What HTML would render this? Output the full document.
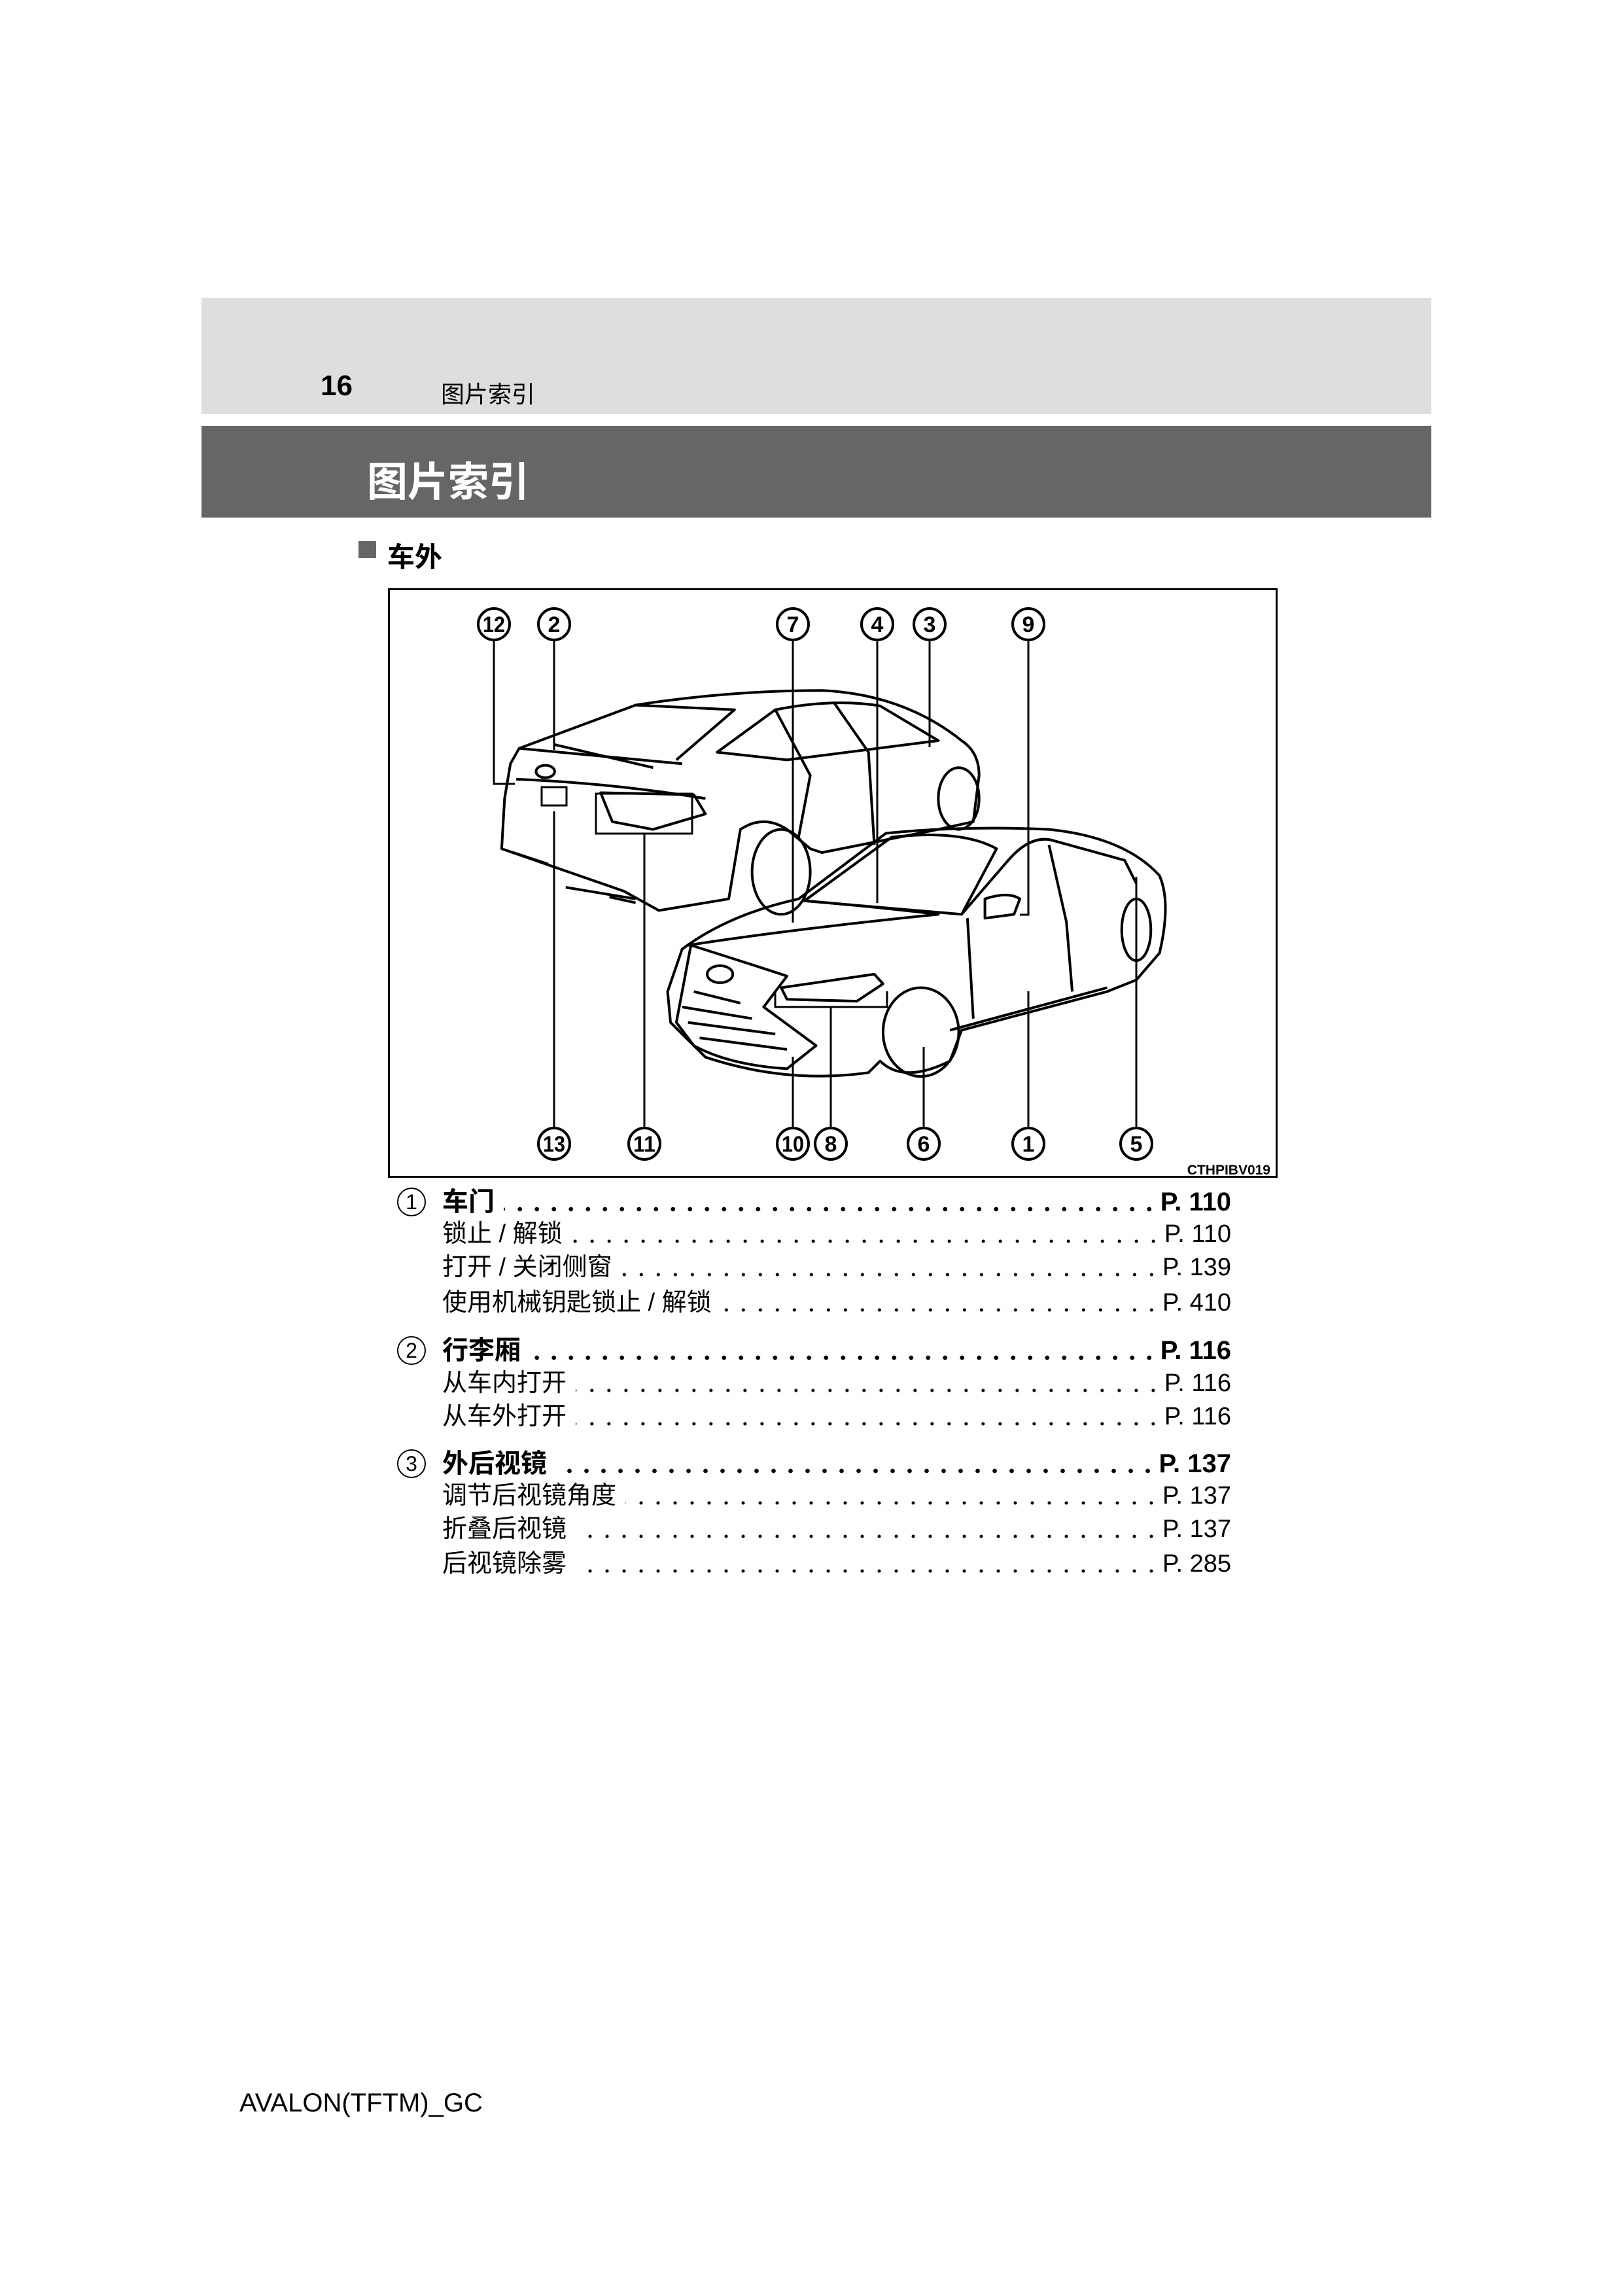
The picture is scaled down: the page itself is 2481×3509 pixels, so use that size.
<!DOCTYPE html>
<html><head><meta charset="utf-8">
<style>
html,body{margin:0;padding:0;background:#fff}
body{width:2481px;height:3509px;position:relative;overflow:hidden;font-family:"Liberation Sans","Noto Sans CJK SC",sans-serif;color:#000}
.abs{position:absolute}
.row{position:absolute;left:676px;width:1206px;display:flex;align-items:flex-end;font-size:38px;line-height:44px;height:44px}
.row .lab{white-space:nowrap}
.row .dots{flex:1;height:44px;margin:0 4px 0 14px;background-image:radial-gradient(circle,#000 2.2px,transparent 2.8px);background-size:26px 8px;background-repeat:repeat-x;background-position:right 0 bottom 7px}
.row.b{font-weight:bold;font-size:40px}
.row.b .dots{background-image:radial-gradient(circle,#000 3px,transparent 3.6px)}
.row .pg{white-space:nowrap}
.cn{position:absolute;width:44px;height:44px;border:2px solid #000;border-radius:50%;box-sizing:border-box;font-size:32px;line-height:40px;text-align:center}
</style></head><body>
<div class="abs" style="left:308px;top:455px;width:1880px;height:178px;background:#dedede"></div>
<div class="abs" style="left:490px;top:565px;font-size:44px;font-weight:bold">16</div>
<div class="abs" style="left:674px;top:574px;font-size:36px">图片索引</div>
<div class="abs" style="left:308px;top:651px;width:1880px;height:140px;background:#666"></div>
<div class="abs" style="left:561px;top:686px;font-size:62px;font-weight:bold;color:#fff">图片索引</div>
<div class="abs" style="left:548px;top:827px;width:27px;height:26px;background:#666"></div>
<div class="abs" style="left:592px;top:818px;font-size:42px;font-weight:bold">车外</div>
<div class="abs" style="left:593px;top:899px;width:1360px;height:901px;border:3px solid #000;box-sizing:border-box"></div>

<svg class="abs" style="left:0;top:0" width="2481" height="3509">
<g transform="translate(580,890) scale(0.89,0.59)" fill="none" stroke="#000" stroke-width="4" stroke-linejoin="round">
<path vector-effect="non-scaling-stroke" d="M240,430 L440,318 Q600,280 760,280 Q900,290 1000,410 Q1030,440 1030,500 L1020,620 L960,640 L760,700 L740,690 L700,640 Q660,600 620,640 L600,820 L480,850 L420,800 L210,690 L215,560 L225,470 Z"/>
<path vector-effect="non-scaling-stroke" d="M440,318 L610,330 L510,460 M300,420 L470,480 M240,430 L520,470"/>
<path vector-effect="non-scaling-stroke" d="M580,440 L680,330 Q780,300 860,320 L960,410 L700,460 Z"/>
<path vector-effect="non-scaling-stroke" d="M680,330 L740,500 L720,660 M780,310 L840,440 L850,680"/>
<circle vector-effect="non-scaling-stroke" cx="285" cy="490" r="16"/>
<path vector-effect="non-scaling-stroke" d="M235,510 Q400,520 560,560 M380,545 L540,550 L560,600 L470,640 L400,620 Z"/>
<path vector-effect="non-scaling-stroke" d="M230,700 L290,730 M320,790 L440,820 M395,815 L440,830"/>
<ellipse vector-effect="non-scaling-stroke" cx="995" cy="560" rx="35" ry="80"/>
<ellipse vector-effect="non-scaling-stroke" cx="690" cy="750" rx="50" ry="110"/>
<path vector-effect="non-scaling-stroke" d="M520,950 Q600,860 720,820 L870,650 Q1000,630 1150,640 Q1280,660 1340,760 Q1360,830 1340,960 L1300,1030 L1250,1060 L1000,1160 L980,1240 Q900,1300 860,1240 L840,1270 Q700,1300 560,1230 L500,1140 L495,1060 Z"/>
<path vector-effect="non-scaling-stroke" d="M730,825 L880,660 Q1000,640 1060,690 L1000,860 Z"/>
<path vector-effect="non-scaling-stroke" d="M730,825 Q850,840 960,860 Q700,900 530,940 M1000,860 L1080,720 Q1120,650 1160,670 L1280,720 L1300,780"/>
<path vector-effect="non-scaling-stroke" d="M1010,870 L1020,1130 M1150,680 L1180,880 L1190,1060"/>
<path vector-effect="non-scaling-stroke" d="M1040,820 Q1080,800 1100,820 L1090,860 L1040,870 Z"/>
<path vector-effect="non-scaling-stroke" d="M535,940 Q640,990 700,1020 L660,1100 L750,1200 L700,1260 Q600,1250 540,1200 L510,1140 Z"/>
<circle vector-effect="non-scaling-stroke" cx="585" cy="1015" r="22"/>
<path vector-effect="non-scaling-stroke" d="M690,1050 L850,1015 L865,1040 L820,1085 L700,1080 Z"/>
<path vector-effect="non-scaling-stroke" d="M540,1060 L620,1090 M520,1100 L640,1130 M530,1140 L680,1170 M550,1180 L700,1210"/>
<ellipse vector-effect="non-scaling-stroke" cx="930" cy="1165" rx="65" ry="115"/>
<ellipse vector-effect="non-scaling-stroke" cx="1300" cy="900" rx="25" ry="80"/>
<path vector-effect="non-scaling-stroke" d="M980,1160 L1250,1050"/>
</g>
<g fill="none" stroke="#000" stroke-width="3">
<path d="M755,977 V1198 H787"/>
<path d="M847,977 V1146"/>
<path d="M1212,977 V1410"/>
<path d="M1341,977 V1380"/>
<path d="M1421,977 V1142"/>
<path d="M1572,977 V1398 H1559"/>
<path d="M847,1725 V1240 M828,1203 H866 V1231 H828 Z"/>
<path d="M985,1725 V1274 M911,1213 H1058 V1274 H911 Z"/>
<path d="M1212,1725 V1615"/>
<path d="M1270,1725 V1539 M1185,1515 V1539 H1356 V1515"/>
<path d="M1412,1725 V1600"/>
<path d="M1572,1725 V1515"/>
<path d="M1737,1725 V1340"/>
</g>
<g fill="#fff" stroke="#000" stroke-width="4">
<circle cx="755" cy="954" r="24"/><circle cx="847" cy="954" r="24"/><circle cx="1212" cy="954" r="24"/><circle cx="1341" cy="954" r="24"/><circle cx="1421" cy="954" r="24"/><circle cx="1572" cy="954" r="24"/>
<circle cx="847" cy="1748" r="24"/><circle cx="985" cy="1748" r="24"/><circle cx="1212" cy="1748" r="24"/><circle cx="1270" cy="1748" r="24"/><circle cx="1412" cy="1748" r="24"/><circle cx="1572" cy="1748" r="24"/><circle cx="1737" cy="1748" r="24"/>
</g>
<g font-family="Liberation Sans, sans-serif" font-size="34" font-weight="bold" text-anchor="middle" fill="#000">
<text x="755" y="966" textLength="34" lengthAdjust="spacingAndGlyphs">12</text><text x="847" y="966">2</text><text x="1212" y="966">7</text><text x="1341" y="966">4</text><text x="1421" y="966">3</text><text x="1572" y="966">9</text>
<text x="847" y="1760" textLength="34" lengthAdjust="spacingAndGlyphs">13</text><text x="985" y="1760" textLength="34" lengthAdjust="spacingAndGlyphs">11</text><text x="1212" y="1760" textLength="34" lengthAdjust="spacingAndGlyphs">10</text><text x="1270" y="1760">8</text><text x="1412" y="1760">6</text><text x="1572" y="1760">1</text><text x="1737" y="1760">5</text>
</g>
<text x="1942" y="1795" text-anchor="end" font-family="Liberation Sans, sans-serif" font-size="21" font-weight="bold">CTHPIBV019</text>
</svg>

<div class="cn" style="left:607px;top:1815px">1</div>
<div class="row b" style="top:1815px"><span class="lab">车门</span><span class="dots"></span><span class="pg">P. 110</span></div>
<div class="row" style="top:1864px"><span class="lab">锁止 / 解锁</span><span class="dots"></span><span class="pg">P. 110</span></div>
<div class="row" style="top:1915px"><span class="lab">打开 / 关闭侧窗</span><span class="dots"></span><span class="pg">P. 139</span></div>
<div class="row" style="top:1969px"><span class="lab">使用机械钥匙锁止 / 解锁</span><span class="dots"></span><span class="pg">P. 410</span></div>

<div class="cn" style="left:607px;top:2042px">2</div>
<div class="row b" style="top:2042px"><span class="lab">行李厢</span><span class="dots"></span><span class="pg">P. 116</span></div>
<div class="row" style="top:2092px"><span class="lab">从车内打开</span><span class="dots"></span><span class="pg">P. 116</span></div>
<div class="row" style="top:2143px"><span class="lab">从车外打开</span><span class="dots"></span><span class="pg">P. 116</span></div>

<div class="cn" style="left:607px;top:2215px">3</div>
<div class="row b" style="top:2215px"><span class="lab">外后视镜</span><span class="dots"></span><span class="pg">P. 137</span></div>
<div class="row" style="top:2264px"><span class="lab">调节后视镜角度</span><span class="dots"></span><span class="pg">P. 137</span></div>
<div class="row" style="top:2315px"><span class="lab">折叠后视镜</span><span class="dots"></span><span class="pg">P. 137</span></div>
<div class="row" style="top:2368px"><span class="lab">后视镜除雾</span><span class="dots"></span><span class="pg">P. 285</span></div>

<div class="abs" style="left:366px;top:3192px;font-size:40px">AVALON(TFTM)_GC</div>
</body></html>
